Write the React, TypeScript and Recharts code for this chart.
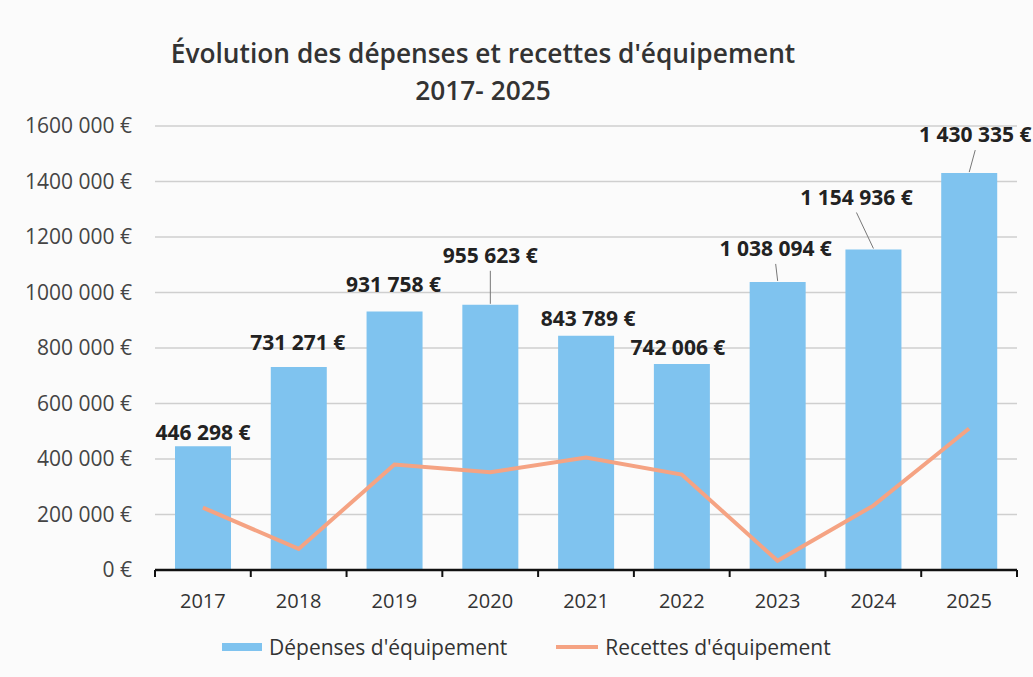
import React from 'react';
import { ComposedChart, Bar, Line, XAxis, YAxis, CartesianGrid, LabelList } from 'recharts';

const years = ['2017', '2018', '2019', '2020', '2021', '2022', '2023', '2024', '2025'];
const depenses = [446298, 731271, 931758, 955623, 843789, 742006, 1038094, 1154936, 1430335];
const recettes = [225000, 76000, 380000, 352000, 405000, 344000, 33000, 232000, 510000];
const yTicks = [0, 200000, 400000, 600000, 800000, 1000000, 1200000, 1400000, 1600000];

const data = years.map((year, i) => ({ year, depenses: depenses[i], recettes: recettes[i] }));

const BLUE = '#7fc3ef';
const ORANGE = '#f5a383';
const FONT = '"Open Sans", "Noto Sans", sans-serif';

const CHART_W = 1033;
const CHART_H = 677;
const MARGIN = { top: 126, right: 16, bottom: 67, left: 0 };
const Y_AXIS_W = 155;
const BAND = (CHART_W - MARGIN.left - MARGIN.right - Y_AXIS_W) / years.length;
const TICK_SIZE = 6;
const TICK_MARGIN = 18;

// label placement relative to the top-centre of each bar
const labelPlacement = [
  { dx: 0, dy: -14, leader: false },
  { dx: -1, dy: -25, leader: false },
  { dx: -1, dy: -27, leader: false },
  { dx: 0, dy: -50, leader: true },
  { dx: 2, dy: -18, leader: false },
  { dx: -4, dy: -17, leader: false },
  { dx: -2, dy: -34, leader: true },
  { dx: -17, dy: -53, leader: true },
  { dx: 6, dy: -39, leader: true },
];

const fmtEuro = (v: number) => {
  const s = Math.round(v).toString();
  if (v >= 1000000) return `${s.slice(0, -6)} ${s.slice(-6, -3)} ${s.slice(-3)} €`;
  if (v >= 1000) return `${s.slice(0, -3)} ${s.slice(-3)} €`;
  return `${v} €`;
};

const fmtTick = (v: number) => (v === 0 ? '0 €' : `${Math.round(v / 1000)} 000 €`);

const BarLabel = (props: any) => {
  const { x, y, width, index, value } = props;
  const p = labelPlacement[index];
  const cx = x + width / 2;
  const lx = cx + p.dx;
  const ly = y + p.dy;
  return (
    <g>
      {p.leader && (
        <line x1={lx} y1={ly + 16} x2={cx} y2={y - 1} stroke="#777" strokeWidth={1} />
      )}
      <text
        x={lx}
        y={ly}
        textAnchor="middle"
        dominantBaseline="central"
        fontFamily={FONT}
        fontWeight={700}
        fontSize={21}
        fill="#222"
      >
        {fmtEuro(value)}
      </text>
    </g>
  );
};

// year label plus tick marks on the category boundaries
const YearTick = (props: any) => {
  const { x, y, payload, index } = props;
  const axisY = y - TICK_SIZE - TICK_MARGIN;
  const left = x - BAND / 2;
  const right = x + BAND / 2;
  return (
    <g>
      <line x1={left} y1={axisY} x2={left} y2={axisY + 7} stroke="#111" strokeWidth={2} />
      {index === years.length - 1 && (
        <line x1={right} y1={axisY} x2={right} y2={axisY + 7} stroke="#111" strokeWidth={2} />
      )}
      <text x={x} y={y} dy="0.71em" textAnchor="middle" fontFamily={FONT} fontSize={20} fill="#333">
        {payload.value}
      </text>
    </g>
  );
};

export default function App() {
  return (
    <div style={{ position: 'absolute', left: 0, top: 0, width: CHART_W, height: CHART_H, background: '#fbfbfb' }}>
      <div
        style={{
          position: 'absolute',
          left: 0,
          width: 966,
          top: 35,
          textAlign: 'center',
          fontFamily: FONT,
          fontWeight: 600,
          fontSize: 26.3,
          lineHeight: '37px',
          color: '#333',
        }}
      >
        <div>Évolution des dépenses et recettes d'équipement</div>
        <div>2017- 2025</div>
      </div>
      <ComposedChart width={CHART_W} height={CHART_H} data={data} margin={MARGIN} barCategoryGap={0}>
        <CartesianGrid vertical={false} stroke="#cfcfcf" strokeWidth={1.5} />
        <XAxis
          dataKey="year"
          axisLine={{ stroke: '#111', strokeWidth: 2.5 }}
          tickLine={false}
          height={40}
          tickSize={TICK_SIZE}
          tickMargin={TICK_MARGIN}
          interval={0}
          tick={<YearTick />}
        />
        <YAxis
          domain={[0, 1600000]}
          ticks={yTicks}
          width={Y_AXIS_W}
          axisLine={false}
          tickLine={false}
          tickMargin={17}
          tickFormatter={fmtTick}
          tick={{ fontFamily: FONT, fontSize: 21, fill: '#444' }}
        />
        <Bar dataKey="depenses" name="Dépenses d'équipement" fill={BLUE} barSize={56} isAnimationActive={false}>
          <LabelList dataKey="depenses" content={<BarLabel />} />
        </Bar>
        <Line
          type="linear"
          dataKey="recettes"
          name="Recettes d'équipement"
          stroke={ORANGE}
          strokeWidth={4}
          dot={false}
          activeDot={false}
          isAnimationActive={false}
        />
      </ComposedChart>
      <div
        style={{
          position: 'absolute',
          left: 222,
          top: 633,
          display: 'flex',
          alignItems: 'center',
          fontFamily: FONT,
          fontSize: 21,
          color: '#333',
        }}
      >
        <span style={{ display: 'inline-block', width: 40, height: 8, background: BLUE, marginRight: 7 }} />
        <span style={{ marginRight: 49 }}>Dépenses d'équipement</span>
        <span style={{ display: 'inline-block', width: 42, height: 4, background: ORANGE, marginRight: 7 }} />
        <span>Recettes d'équipement</span>
      </div>
    </div>
  );
}
